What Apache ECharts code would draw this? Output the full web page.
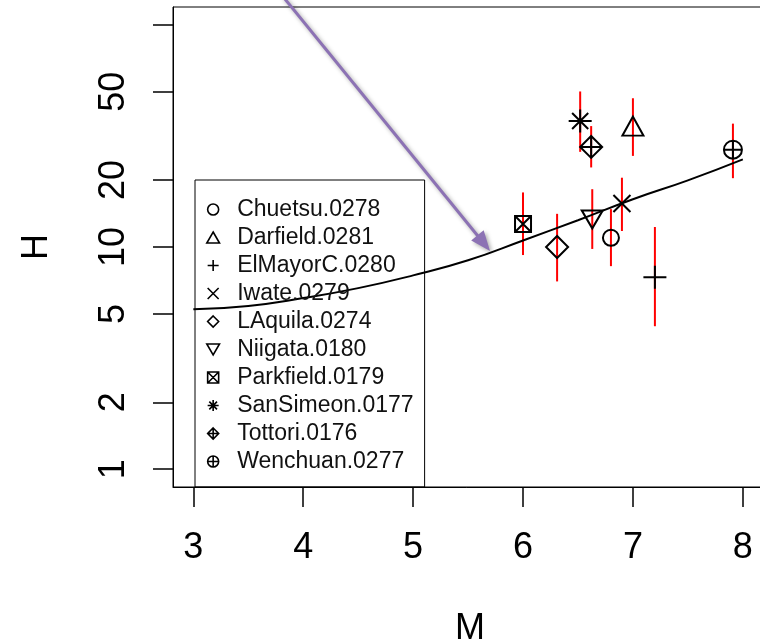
<!DOCTYPE html>
<html><head><meta charset="utf-8">
<script src="https://cdn.jsdelivr.net/npm/echarts@6/dist/echarts.min.js"></script>
<style>html,body{margin:0;padding:0;background:#fff}#c{width:760px;height:641px}</style>
</head><body><div id="c"></div>
<script>
// ---- data ----
const events = ['Chuetsu.0278','Darfield.0281','ElMayorC.0280','Iwate.0279','LAquila.0274','Niigata.0180','Parkfield.0179','SanSimeon.0177','Tottori.0176','Wenchuan.0277'];
const magnitudes = [6.80, 7.00, 7.20, 6.90, 6.31, 6.63, 6.00, 6.52, 6.62, 7.91];
const hValues = [11.0, 35.0, 7.3, 15.7, 10.0, 13.3, 12.7, 36.9, 28.2, 27.4];
const hLower  = [8.2, 25.7, 4.4, 11.8, 7.0, 9.8, 9.2, 26.8, 22.8, 20.4];
const hUpper  = [14.8, 46.7, 12.3, 20.5, 14.1, 18.2, 17.6, 50.1, 35.0, 35.9];
const fitM = [3.0, 3.5, 4.0, 4.5, 5.0, 5.5, 6.0, 6.5, 7.0, 7.5, 8.0];
const fitH = [5.24, 5.43, 5.89, 6.53, 7.45, 8.71, 10.7, 13.2, 16.4, 19.95, 24.8];
const xTicks = [3, 4, 5, 6, 7, 8];
const yTickLabels = [1, 2, 5, 10, 20, 50];
const yTicks = [1, 2, 5, 10, 20, 50, 100];
const arrowFrom = [3.81, 135];
const arrowTo = [5.70, 9.6];

// ---- styles ----
const P = 'path://';
const symbols = [
  ['circle', [16,16]],
  [P+'M5,0 L10,8.66 L0,8.66 Z', [21,19]],
  [P+'M5,0 L5,10 M0,5 L10,5', [23,23]],
  [P+'M0,0 L10,10 M10,0 L0,10', [17,17]],
  [P+'M5,0 L10,5 L5,10 L0,5 Z', [22,22]],
  [P+'M0,0 L10,0 L5,8.66 Z', [21,18]],
  [P+'M0,0 L10,0 L10,10 L0,10 Z M0,0 L10,10 M10,0 L0,10', [16,16]],
  [P+'M5,0 L5,10 M0,5 L10,5 M1.5,1.5 L8.5,8.5 M8.5,1.5 L1.5,8.5', [23,23]],
  [P+'M5,0 L10,5 L5,10 L0,5 Z M5,0 L5,10 M0,5 L10,5', [22,22]],
  [P+'M0,5 A5,5 0 1,1 10,5 A5,5 0 1,1 0,5 Z M5,0 L5,10 M0,5 L10,5', [18,18]]
];
const FONT = "'Liberation Sans', Arial, sans-serif";

const chart = echarts.init(document.getElementById('c'), null, {renderer: 'canvas'});

const series = [];
series.push({
  type: 'custom', name: 'err', z: 1, silent: true,
  data: magnitudes.map((m, i) => [m, hLower[i], hUpper[i]]),
  encode: {x: 0, y: [1, 2]},
  renderItem: function (params, api) {
    const a = api.coord([api.value(0), api.value(1)]);
    const b = api.coord([api.value(0), api.value(2)]);
    return {type: 'line', shape: {x1: a[0], y1: a[1], x2: b[0], y2: b[1]},
            style: {stroke: '#ff0000', lineWidth: 2}};
  }
});
series.push({
  type: 'line', name: 'fit', z: 2, silent: true, smooth: true, showSymbol: false,
  data: fitM.map((m, i) => [m, fitH[i]]),
  lineStyle: {color: '#000', width: 2}
});
events.forEach((ev, i) => {
  series.push({
    type: 'scatter', name: ev, z: 3,
    symbol: symbols[i][0], symbolSize: symbols[i][1],
    data: [[magnitudes[i], hValues[i]]],
    itemStyle: {color: 'rgba(0,0,0,0)', borderColor: '#000', borderWidth: 2, opacity: 1}
  });
});

chart.setOption({
  animation: false,
  backgroundColor: '#fff',
  grid: {left: 173, top: 7, right: -7, bottom: 154, show: true, borderColor: '#000', borderWidth: 1,
         backgroundColor: 'transparent', containLabel: false, outerBoundsMode: 'none'},
  xAxis: {
    type: 'value', min: 2.815, max: 8.22,
    name: 'M', nameLocation: 'middle', nameGap: 124,
    nameTextStyle: {fontSize: 36, color: '#000', fontFamily: FONT},
    axisLine: {show: true, lineStyle: {color: '#000', width: 1}},
    axisTick: {show: true, length: 20, lineStyle: {color: '#000', width: 1.5}, customValues: xTicks},
    axisLabel: {fontSize: 36, color: '#000', fontFamily: FONT, margin: 43, customValues: xTicks},
    splitLine: {show: false}
  },
  yAxis: {
    type: 'log', logBase: 10, min: 0.8318, max: 120.2,
    name: 'H', nameLocation: 'middle', nameGap: 118, nameRotate: 90,
    nameTextStyle: {fontSize: 36, color: '#000', fontFamily: FONT},
    axisLine: {show: true, lineStyle: {color: '#000', width: 1}},
    axisTick: {show: true, length: 20, lineStyle: {color: '#000', width: 1.5}, customValues: yTicks},
    axisLabel: {fontSize: 36, color: '#000', fontFamily: FONT, margin: 41, rotate: 90,
                customValues: yTickLabels, formatter: v => String(Math.round(v * 1000) / 1000)},
    splitLine: {show: false}
  },
  legend: {
    data: events, orient: 'vertical', left: 195, top: 180,
    padding: [18, 11, 14, 11], itemGap: 5, itemWidth: 30, itemHeight: 11,
    backgroundColor: 'transparent', borderColor: '#000', borderWidth: 1, borderRadius: 0,
    selectedMode: false, symbolKeepAspect: true,
    itemStyle: {borderWidth: 1.6},
    textStyle: {fontSize: 23, lineHeight: 23, color: '#111', fontFamily: FONT, padding: [0, 0, 0, 4]}
  },
  series: series
});

// annotation arrow (purple), positioned via the axes
const p0 = chart.convertToPixel({gridIndex: 0}, arrowFrom);
const p1 = chart.convertToPixel({gridIndex: 0}, arrowTo);
const dx = p1[0] - p0[0], dy = p1[1] - p0[1];
const L = Math.sqrt(dx * dx + dy * dy), ux = dx / L, uy = dy / L;
const headLen = 20, headHalf = 8;
const bx = p1[0] - ux * headLen, by = p1[1] - uy * headLen;
const arrowColor = '#8c72b4';
const shadow = {shadowBlur: 4, shadowColor: 'rgba(0,0,0,0.35)', shadowOffsetX: 2, shadowOffsetY: 2};
chart.setOption({
  graphic: [
    {type: 'line', z: 10, silent: true,
     shape: {x1: p0[0], y1: p0[1], x2: bx + ux * 2, y2: by + uy * 2},
     style: Object.assign({stroke: arrowColor, lineWidth: 3}, shadow)},
    {type: 'polygon', z: 10, silent: true,
     shape: {points: [[p1[0], p1[1]], [bx - uy * headHalf, by + ux * headHalf], [bx + uy * headHalf, by - ux * headHalf]]},
     style: Object.assign({fill: arrowColor}, shadow)}
  ]
});
</script>
</body></html>
